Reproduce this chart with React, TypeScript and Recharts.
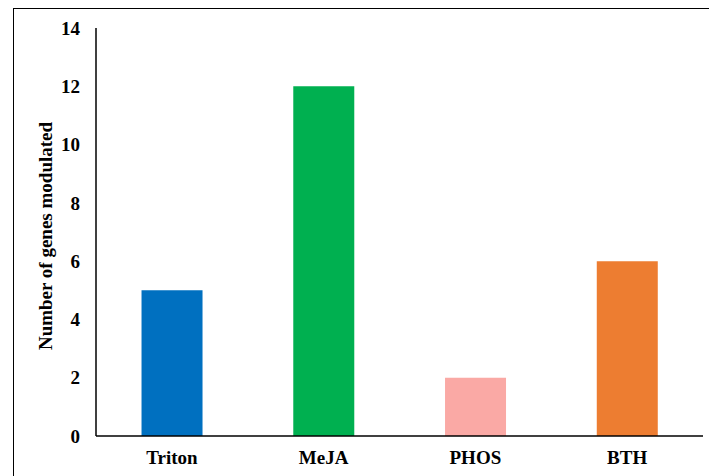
import { BarChart, Bar, XAxis, YAxis, Cell } from "recharts";

const treatments = ["Triton", "MeJA", "PHOS", "BTH"];
const genesModulated = [5, 12, 2, 6];
const barColors = ["#0070C0", "#00B050", "#FAA9A5", "#ED7D31"];
const yTicks = [0, 2, 4, 6, 8, 10, 12, 14];

const data = treatments.map((name, i) => ({ name, value: genesModulated[i] }));

const font = "Liberation Serif";
const tickStyle = { fontFamily: font, fontSize: 19, fontWeight: 700, fill: "#000" };

function YLabel(props: any) {
  const vb = props.viewBox || { x: 0, y: 0, width: 0, height: 0 };
  const cx = 45;
  const cy = vb.y + vb.height / 2 + 4;
  return (
    <text
      x={cx}
      y={cy}
      transform={`rotate(-90 ${cx} ${cy})`}
      textAnchor="middle"
      dominantBaseline="central"
      fontFamily={font}
      fontSize={19}
      fontWeight={700}
      fill="#000"
    >
      Number of genes modulated
    </text>
  );
}

export default function App() {
  return (
    <div style={{ position: "absolute", left: 0, top: 0, width: 709, height: 476, overflow: "hidden", background: "#fff" }}>
      <div
        style={{
          position: "absolute",
          left: 13,
          top: 8,
          width: 720,
          height: 500,
          border: "1px solid #000",
          boxSizing: "border-box",
        }}
      />
      <div style={{ position: "absolute", left: 0, top: 0 }}>
        <BarChart
          width={709}
          height={476}
          data={data}
          margin={{ top: 28, right: 6, bottom: 0, left: 0 }}
          barCategoryGap="30%"
        >
          <XAxis
            dataKey="name"
            height={40}
            tickLine={false}
            tickSize={0}
            tickMargin={15}
            axisLine={{ stroke: "#000", strokeWidth: 1.5 }}
            tick={tickStyle}
          />
          <YAxis
            width={96}
            domain={[0, 14]}
            ticks={yTicks}
            tickLine={false}
            tickSize={0}
            tickMargin={16}
            axisLine={{ stroke: "#000", strokeWidth: 1.5 }}
            tick={tickStyle}
            label={<YLabel />}
          />
          <Bar dataKey="value" isAnimationActive={false}>
            {data.map((d, i) => (
              <Cell key={d.name} fill={barColors[i]} />
            ))}
          </Bar>
        </BarChart>
      </div>
    </div>
  );
}
